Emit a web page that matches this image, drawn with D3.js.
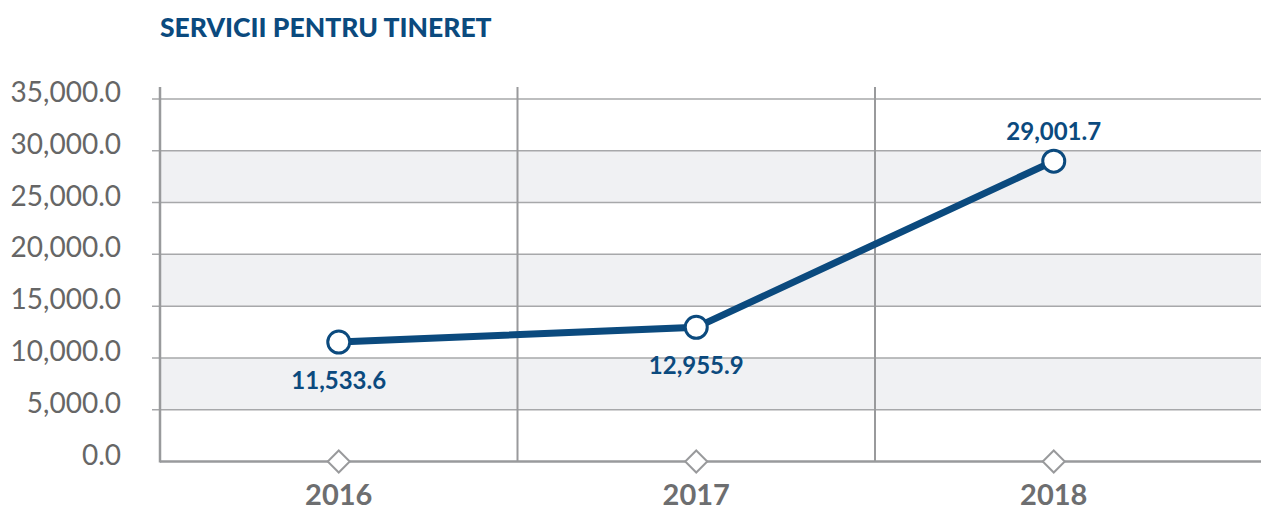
<!DOCTYPE html>
<html>
<head>
<meta charset="utf-8">
<script src="https://cdn.jsdelivr.net/npm/d3@7"></script>
<style>
  body { margin: 0; background: #fff; }
  svg { display: block; }
</style>
</head>
<body>
<svg id="chart" width="1261" height="511"></svg>
<script>
// chart values
var title = "SERVICII PENTRU TINERET"
var years = ["2016", "2017", "2018"]
var values = [11533.6, 12955.9, 29001.7]
var yTicks = [0, 5000, 10000, 15000, 20000, 25000, 30000, 35000]
var labelPos = ["below", "below", "above"]

var width = 1261
  , height = 511
  , plotLeft = 160
  , plotTop = 99
  , plotBottom = 461.5
  , blue = "#0b4a7e"
  , grey = "#999a9c";

var svg = d3.select("#chart");

var x = d3.scaleBand()
  .domain(years)
  .range([plotLeft, plotLeft + 3 * 357.5]);

var y = d3.scaleLinear()
  .domain([0, 35000])
  .range([plotBottom, plotTop]);

var fmt = d3.format(",.1f");

// shaded bands
var bands = [[5000, 10000], [15000, 20000], [25000, 30000]];
svg.selectAll(".band")
  .data(bands)
 .enter().append("rect")
  .attr("x", plotLeft)
  .attr("y", d => y(d[1]))
  .attr("width", width - plotLeft)
  .attr("height", d => y(d[0]) - y(d[1]))
  .attr("fill", "#f0f1f3");

// horizontal grid + small ticks on the left
svg.selectAll(".grid")
  .data(yTicks.filter(d => d > 0))
 .enter().append("line")
  .attr("x1", plotLeft - 8)
  .attr("x2", width)
  .attr("y1", d => y(d))
  .attr("y2", d => y(d))
  .attr("stroke", "#a7a8aa")
  .attr("stroke-width", 1.5);

// vertical separators between years
var seps = years.slice(1).map(d => x(d));
svg.selectAll(".sep")
  .data(seps)
 .enter().append("line")
  .attr("x1", d => d)
  .attr("x2", d => d)
  .attr("y1", plotTop - 12)
  .attr("y2", plotBottom)
  .attr("stroke", grey)
  .attr("stroke-width", 2);

// left axis line
svg.append("line")
  .attr("x1", plotLeft).attr("x2", plotLeft)
  .attr("y1", plotTop - 12).attr("y2", plotBottom + 1)
  .attr("stroke", grey)
  .attr("stroke-width", 2.5);

// bottom axis line
svg.append("line")
  .attr("x1", plotLeft).attr("x2", width)
  .attr("y1", plotBottom).attr("y2", plotBottom)
  .attr("stroke", grey)
  .attr("stroke-width", 2.5);

// y tick labels
svg.selectAll(".ylab")
  .data(yTicks)
 .enter().append("text")
  .attr("x", 121)
  .attr("y", d => y(d) + 3)
  .attr("text-anchor", "end")
  .attr("font-family", "Lato")
  .attr("font-weight", 400)
  .attr("font-size", 28)
  .attr("fill", "#666")
  .text(d => fmt(d));

// diamonds on axis
svg.selectAll(".diamond")
  .data(years)
 .enter().append("path")
  .attr("d", "M0,-11L11,0L0,11L-11,0Z")
  .attr("transform", d => "translate(" + (x(d) + x.bandwidth() / 2) + "," + plotBottom + ")")
  .attr("fill", "#fff")
  .attr("stroke", grey)
  .attr("stroke-width", 2);

// year labels
svg.selectAll(".xlab")
  .data(years)
 .enter().append("text")
  .attr("x", d => x(d) + x.bandwidth() / 2)
  .attr("y", 505)
  .attr("text-anchor", "middle")
  .attr("font-family", "Lato")
  .attr("font-weight", 700)
  .attr("font-size", 29)
  .attr("fill", "#6d6e70")
  .text(d => d);

// series
var pts = years.map((d, i) => ({year: d, value: values[i], pos: labelPos[i]}));

var line = d3.line()
  .x(d => x(d.year) + x.bandwidth() / 2)
  .y(d => y(d.value));

svg.append("path")
  .datum(pts)
  .attr("d", line)
  .attr("fill", "none")
  .attr("stroke", blue)
  .attr("stroke-width", 7);

svg.selectAll(".pt")
  .data(pts)
 .enter().append("circle")
  .attr("cx", d => x(d.year) + x.bandwidth() / 2)
  .attr("cy", d => y(d.value))
  .attr("r", 11)
  .attr("fill", "#fff")
  .attr("stroke", blue)
  .attr("stroke-width", 3);

svg.selectAll(".vlab")
  .data(pts)
 .enter().append("text")
  .attr("x", d => x(d.year) + x.bandwidth() / 2)
  .attr("y", d => d.pos == "above" ? y(d.value) - 21 : y(d.value) + 47)
  .attr("text-anchor", "middle")
  .attr("font-family", "Lato")
  .attr("font-weight", 700)
  .attr("font-size", 24)
  .attr("fill", blue)
  .text(d => fmt(d.value));

// title
svg.append("text")
  .attr("x", 160)
  .attr("y", 37)
  .attr("font-family", "Lato")
  .attr("font-weight", 900)
  .attr("font-size", 26.5)
  .attr("fill", blue)
  .text(title);
</script>
</body>
</html>
